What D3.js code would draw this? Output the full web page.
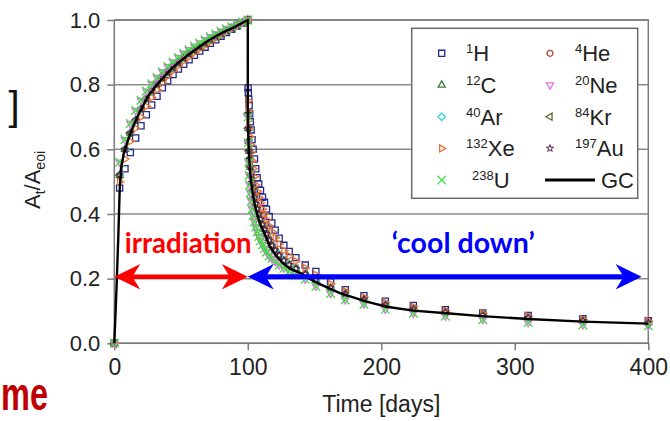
<!DOCTYPE html>
<html>
<head>
<meta charset="utf-8">
<script src="https://cdn.jsdelivr.net/npm/d3@7"></script>
<style>
body{margin:0;background:#fff;}
</style>
</head>
<body>
<div id="grafico"></div>
<script>
const WIDTH = 670;
const HEIGHT = 421;

// days at which the isotope markers are plotted
const irrDays = [0,4,8,12,16,20,24,28,32,36,40,44,48,52,56,60,64,68,72,76,80,84,88,92,96,100];
const coolDays = [100.2,100.4,100.7,101,101.4,101.9,102.5,103.2,104,105,106,107,108.2,109.5,111,112.5,114,116,118,120.5,123.5,127,131,136,143,151,162,173,187,203,224,248,276,310,351,400];

// A_t/A_eoi (markers overlap, so close isotopes share values)
const hIrr = [0,0.48,0.54,0.59,0.635,0.673,0.707,0.737,0.764,0.79,0.812,0.831,0.848,0.863,0.877,0.891,0.904,0.916,0.928,0.939,0.95,0.961,0.971,0.981,0.991,1.0];
const hCool = [0.79,0.775,0.755,0.735,0.71,0.685,0.66,0.63,0.6,0.57,0.54,0.512,0.493,0.473,0.452,0.436,0.415,0.392,0.372,0.35,0.325,0.303,0.284,0.265,0.242,0.222,0.19,0.166,0.147,0.13,0.117,0.104,0.094,0.086,0.076,0.07];
const xeIrr = [0,0.5,0.57,0.625,0.665,0.7,0.733,0.76,0.784,0.806,0.826,0.843,0.858,0.873,0.886,0.899,0.911,0.922,0.933,0.944,0.954,0.964,0.973,0.982,0.991,1.0];
const xeCool = [0.75,0.72,0.69,0.665,0.64,0.615,0.59,0.565,0.54,0.515,0.49,0.47,0.452,0.435,0.415,0.4,0.383,0.363,0.346,0.327,0.307,0.287,0.27,0.254,0.233,0.212,0.184,0.162,0.143,0.126,0.113,0.101,0.092,0.084,0.074,0.069];
const midIrr = [0,0.52,0.6,0.65,0.69,0.725,0.757,0.781,0.802,0.82,0.838,0.853,0.868,0.882,0.895,0.906,0.917,0.928,0.939,0.949,0.958,0.967,0.975,0.983,0.992,1.0];
const midCool = [0.71,0.665,0.625,0.595,0.57,0.545,0.52,0.497,0.474,0.452,0.432,0.416,0.4,0.384,0.368,0.353,0.338,0.318,0.303,0.288,0.272,0.256,0.243,0.231,0.214,0.196,0.172,0.154,0.136,0.119,0.106,0.096,0.087,0.079,0.07,0.064];
const lowIrr = [0,0.56,0.63,0.68,0.72,0.752,0.78,0.803,0.822,0.84,0.856,0.87,0.884,0.897,0.908,0.919,0.929,0.939,0.948,0.957,0.965,0.973,0.98,0.987,0.994,1.0];
const lowCool = [0.7,0.62,0.56,0.52,0.49,0.465,0.44,0.415,0.395,0.375,0.36,0.345,0.33,0.317,0.305,0.293,0.282,0.27,0.262,0.252,0.242,0.232,0.222,0.21,0.198,0.176,0.154,0.134,0.121,0.105,0.093,0.084,0.073,0.064,0.057,0.054];

// GC curve
const gcDays = [0,1,2,3,4,5,7,10,14,18,25,30,35,40,45,50,57,63,70,77,83,90,100,100,100.2,100.4,100.8,101.6,102.5,103.5,104.5,106,108,110,112.5,116.5,121,126.5,132,139,146,154,169,189,204,224,249,275,310,351,400];
const gcValues = [0,0.1,0.21,0.33,0.47,0.54,0.585,0.625,0.67,0.707,0.763,0.79,0.814,0.837,0.857,0.875,0.897,0.915,0.935,0.952,0.965,0.978,1.0,0.745,0.69,0.64,0.59,0.536,0.5,0.47,0.445,0.415,0.385,0.362,0.34,0.3,0.272,0.247,0.23,0.218,0.2,0.183,0.155,0.129,0.113,0.101,0.093,0.084,0.075,0.067,0.061];

const xTicks = [0,100,200,300,400];
const yTicks = [0,0.2,0.4,0.6,0.8,1.0];

const isotopes = ["H","He","C","Ne","Ar","Kr","Xe","Au","U"];
const masses = ["1","4","12","20","40","84","132","197","238"];
const irrSeries = [hIrr,midIrr,midIrr,lowIrr,midIrr,midIrr,xeIrr,midIrr,lowIrr];
const coolSeries = [hCool,midCool,midCool,lowCool,midCool,midCool,xeCool,midCool,lowCool];

const phaseNames = ["irradiation","\u2018cool down\u2019"];
const phaseDays = [[0,100],[100,395]];
const phaseLevel = 0.206;

const colors = {H:"#1f2a8a",He:"#b5403c",C:"#3d7a3d",Ne:"#e26fe6",Ar:"#36d4e0",Kr:"#5b6a35",Xe:"#ee7030",Au:"#5a2050",U:"#3de03d"};
const shapes = {
    H:[d3.symbolSquare2 || d3.symbolSquare,0],
    He:[d3.symbolCircle,0],
    C:[d3.symbolTriangle2 || d3.symbolTriangle,0],
    Ne:[d3.symbolTriangle2 || d3.symbolTriangle,180],
    Ar:[d3.symbolDiamond2 || d3.symbolDiamond,0],
    Kr:[d3.symbolTriangle2 || d3.symbolTriangle,-90],
    Xe:[d3.symbolTriangle2 || d3.symbolTriangle,90],
    Au:[d3.symbolStar,0],
    U:[d3.symbolTimes || d3.symbolCross,0]
};
const sizes = {H:48,He:28,C:36,Ne:36,Ar:36,Kr:36,Xe:36,Au:16,U:50};

let svg = d3.select("#grafico")
    .append("svg")
    .attr("width",WIDTH)
    .attr("height",HEIGHT)
    .style("font-family","'Liberation Sans', Arial, sans-serif");

let x = d3.scaleLinear().domain([0,400]).range([114.3,648.3]);
let y = d3.scaleLinear().domain([0,1]).range([343.3,20]);

// grid
svg.append("g")
    .selectAll("line")
    .data(yTicks)
    .enter()
    .append("line")
    .attr("x1",x(0)).attr("x2",x(400))
    .attr("y1",d=>y(d)).attr("y2",d=>y(d))
    .style("stroke","#8a8a8a")
    .style("stroke-width",1.5);

svg.append("rect")
    .attr("x",x(0)).attr("y",y(1))
    .attr("width",x(400)-x(0)).attr("height",y(0)-y(1))
    .style("fill","none")
    .style("stroke","#7a7a7a")
    .style("stroke-width",1.5);

let xAxis = svg.append("g")
    .attr("transform","translate(0,"+y(0)+")")
    .call(d3.axisBottom(x).tickValues(xTicks).tickFormat(d3.format("d")).tickSize(7).tickPadding(8));
let yAxis = svg.append("g")
    .attr("transform","translate("+x(0)+",0)")
    .call(d3.axisLeft(y).tickValues(yTicks).tickFormat(d3.format(".1f")).tickSize(7).tickPadding(7));
[xAxis,yAxis].forEach(a=>{
    a.select(".domain").remove();
    a.selectAll(".tick line").style("stroke","#7a7a7a").style("stroke-width",1.5);
    a.selectAll(".tick text").style("fill","#222").style("font-family","'Liberation Sans', Arial, sans-serif");
});
xAxis.selectAll(".tick text").style("font-size","23px");
yAxis.selectAll(".tick text").style("font-size","22px");

svg.append("text")
    .attr("x",(x(0)+x(400))/2)
    .attr("y",412)
    .attr("text-anchor","middle")
    .style("font-size","23px")
    .style("fill","#222")
    .text("Time [days]");

let yLabel = svg.append("text")
    .attr("transform","translate(40,180) rotate(-90)")
    .attr("text-anchor","middle")
    .style("font-size","22px")
    .style("fill","#222");
yLabel.append("tspan").text("A");
yLabel.append("tspan").attr("dy",5).style("font-size","14px").text("t");
yLabel.append("tspan").attr("dy",-5).text("/A");
yLabel.append("tspan").attr("dy",5).style("font-size","14px").text("eoi");

// isotope markers
let symbolPath = (iso)=>d3.symbol().type(shapes[iso][0]).size(sizes[iso])();
let drawOrder = ["H","He","C","Ar","Kr","Xe","Au","Ne","U"];
drawOrder.forEach((iso)=>{
    let i = isotopes.indexOf(iso);
    let points = irrDays.map((t,j)=>[t,irrSeries[i][j]])
        .concat(coolDays.map((t,j)=>[t,coolSeries[i][j]]));
    svg.append("g")
        .attr("class","marker-"+iso)
        .selectAll("path")
        .data(points)
        .enter()
        .append("path")
        .attr("d",symbolPath(iso))
        .attr("transform",d=>"translate("+x(d[0])+","+y(d[1])+") rotate("+shapes[iso][1]+")")
        .style("fill","none")
        .style("stroke",colors[iso])
        .style("stroke-width",iso==="Au" ? 1 : 1.3);
});

// GC curve
let gcLine = d3.line()
    .x((d,i)=>x(gcDays[i]))
    .y(d=>y(d));
svg.append("path")
    .attr("d",gcLine(gcValues))
    .style("fill","none")
    .style("stroke","#000")
    .style("stroke-width",2.4)
    .style("stroke-linejoin","round");

// legend
let legend = svg.append("g");
legend.append("rect")
    .attr("x",411.7).attr("y",28.3)
    .attr("width",226).attr("height",170)
    .style("fill","#fff")
    .style("stroke","#6a6a6a")
    .style("stroke-width",1.5);

let legendItems = isotopes.concat(["GC"]);
legendItems.forEach((iso,k)=>{
    let col = k%2;
    let row = Math.floor(k/2);
    let my = 53.3+row*31.7;
    let mx = col==0 ? 441.7 : 550;
    let lx = col==0 ? 466 : 575;
    if(iso==="GC"){
        legend.append("line")
            .attr("x1",545).attr("x2",595)
            .attr("y1",my).attr("y2",my)
            .style("stroke","#000")
            .style("stroke-width",3);
        legend.append("text")
            .attr("x",601).attr("y",my+8)
            .style("font-size","22px")
            .style("fill","#222")
            .text("GC");
        return;
    }
    legend.append("path")
        .attr("d",symbolPath(iso))
        .attr("transform","translate("+mx+","+my+") rotate("+shapes[iso][1]+")")
        .style("fill","none")
        .style("stroke",colors[iso])
        .style("stroke-width",iso==="Au" ? 1 : 1.3);
    let label = legend.append("text")
        .attr("x",iso==="U" ? lx+6 : lx)
        .attr("y",my+8)
        .style("fill","#222");
    label.append("tspan").attr("dy",-8).style("font-size","13px").text(masses[isotopes.indexOf(iso)]);
    label.append("tspan").attr("dy",8).style("font-size","22px").text(iso);
});

// phase arrows
function arrowHead(tipX,tipY,dir){
    let len = 26, half = 12.8, notch = 8;
    return "M"+tipX+","+tipY+
        "L"+(tipX-dir*len)+","+(tipY-half)+
        "L"+(tipX-dir*(len-notch))+","+tipY+
        "L"+(tipX-dir*len)+","+(tipY+half)+"Z";
}
let phaseColors = ["#ff0000","#0000ff"];
[1,0].forEach((p)=>{
    let x1 = x(phaseDays[p][0]);
    let x2 = x(phaseDays[p][1]);
    let yy = y(phaseLevel);
    svg.append("line")
        .attr("x1",x1+10).attr("x2",x2-10)
        .attr("y1",yy).attr("y2",yy)
        .style("stroke",phaseColors[p])
        .style("stroke-width",p==0 ? 4.5 : 5);
    svg.append("path").attr("d",arrowHead(x1,yy,-1)).style("fill",phaseColors[p]);
    svg.append("path").attr("d",arrowHead(x2,yy,1)).style("fill",phaseColors[p]);
});
svg.append("text")
    .attr("x",124.7).attr("y",252.7)
    .attr("textLength",127).attr("lengthAdjust","spacingAndGlyphs")
    .style("font-family","Lato, 'Open Sans', sans-serif")
    .style("font-weight","bold")
    .style("font-size","28px")
    .style("fill","#ff0000")
    .text(phaseNames[0]);
svg.append("text")
    .attr("x",391.7).attr("y",252.7)
    .attr("textLength",143).attr("lengthAdjust","spacingAndGlyphs")
    .style("font-family","Lato, 'Open Sans', sans-serif")
    .style("font-weight","bold")
    .style("font-size","28px")
    .style("fill","#0000ff")
    .text(phaseNames[1]);

// fragments of the surrounding slide text
svg.append("text")
    .attr("x",19.5).attr("y",120)
    .attr("text-anchor","end")
    .style("font-size","40px")
    .style("fill","#111")
    .text("]");
svg.append("text")
    .attr("x",1).attr("y",410)
    .attr("textLength",47).attr("lengthAdjust","spacingAndGlyphs")
    .style("font-size","47px")
    .style("font-weight","bold")
    .style("fill","#c00000")
    .text("me");
</script>
</body>
</html>
